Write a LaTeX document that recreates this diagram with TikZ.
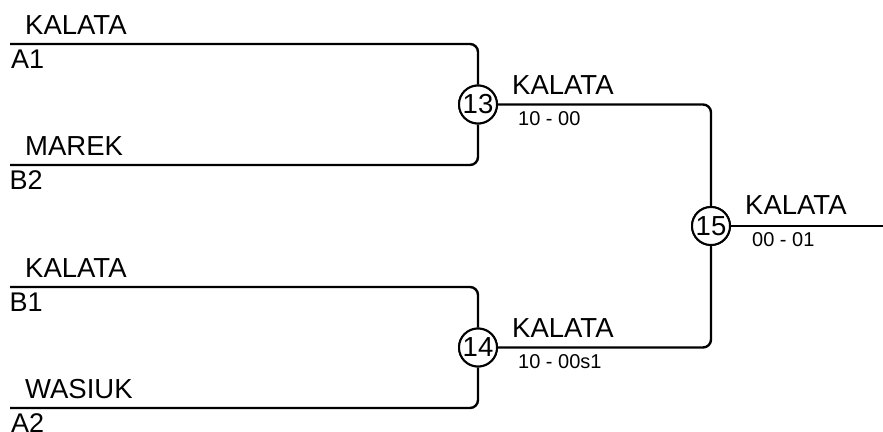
\documentclass[tikz,border=0pt]{standalone}
\usepackage{fontspec}
\setmainfont{Liberation Sans}
\begin{document}
\begin{tikzpicture}[x=1pt,y=-1pt,
  wire/.style={line width=2.4pt,rounded corners=8pt},
  match/.style={circle,draw,line width=2pt,fill=white,minimum size=38pt,inner sep=0pt,font=\fontsize{27.5}{27}\selectfont},
  pname/.style={anchor=base west,inner sep=0pt,font=\fontsize{27.5}{27}\selectfont},
  seedlbl/.style={anchor=base west,inner sep=0pt,font=\fontsize{27}{27}\selectfont},
  scorelbl/.style={anchor=base west,inner sep=0pt,font=\fontsize{20}{20}\selectfont}]
\useasboundingbox (0,0) rectangle (883,431);
% leaf line starts
\coordinate (a1) at (10,44);
\coordinate (b2) at (10,165);
\coordinate (b1) at (10,287);
\coordinate (a2) at (10,408);
\coordinate (out) at (884,226);
% match nodes
\node[match] (c13) at (478,104.5) {};
\node[match] (c14) at (478,347.5) {};
\node[match] (c15) at (711,226) {};
% wires
\draw[wire] (a1) -| (c13.north);
\draw[wire] (b2) -| (c13.south);
\draw[wire] (b1) -| (c14.north);
\draw[wire] (a2) -| (c14.south);
\draw[wire] (c13.east) -| (c15.north);
\draw[wire] (c14.east) -| (c15.south);
\draw[wire] (c15.east) -- (out);
% redraw circles on top
\node[match] at (c13) {13};
\node[match] at (c14) {14};
\node[match] at (c15) {15};
% names
\node[pname] (n1) at (25,34) {KALATA};
\node[seedlbl] (s1) at (11,68) {A1};
\node[pname] (n2) at (25,155) {MAREK};
\node[seedlbl] (s2) at (9.5,189) {B2};
\node[pname] (n3) at (25,277) {KALATA};
\node[seedlbl] (s3) at (9.5,311) {B1};
\node[pname] (n4) at (25,398) {WASIUK};
\node[seedlbl] (s4) at (11,432) {A2};
% winners
\node[pname] (w13) at (512,94.5) {KALATA};
\node[scorelbl] (r13) at (518,125.5) {10 - 00};
\node[pname] (w14) at (512,337) {KALATA};
\node[scorelbl] (r14) at (518,368.5) {10 - 00s1};
\node[pname] (w15) at (745,214.5) {KALATA};
\node[scorelbl] (r15) at (752,246) {00 - 01};
\end{tikzpicture}
\end{document}
